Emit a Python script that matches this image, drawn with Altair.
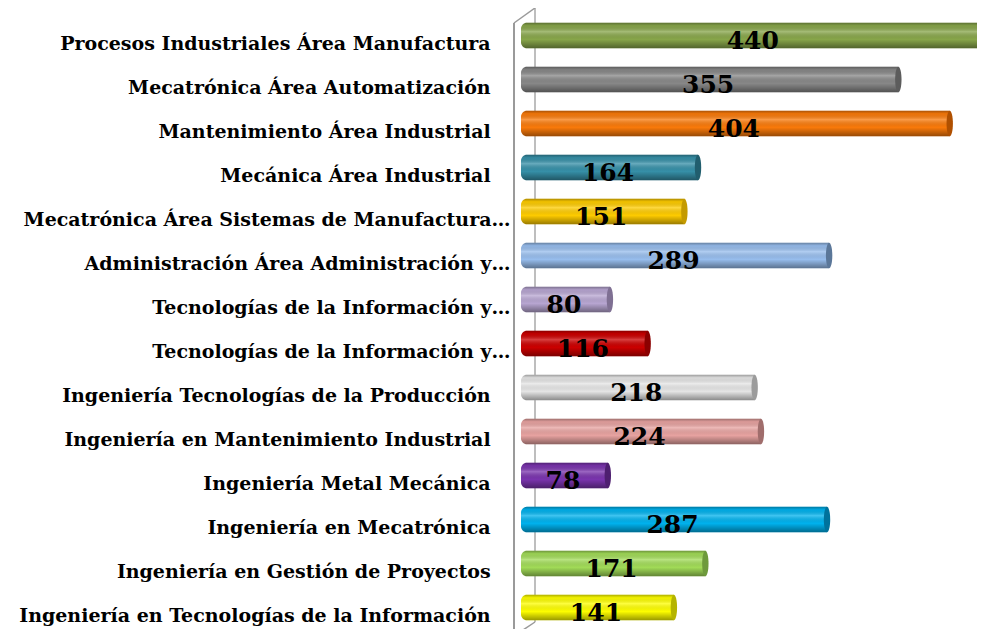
import json
import altair as alt
import pandas as pd

categories = [
    "Procesos Industriales Área Manufactura",
    "Mecatrónica Área Automatización",
    "Mantenimiento Área Industrial",
    "Mecánica Área Industrial",
    "Mecatrónica Área Sistemas de Manufactura…",
    "Administración Área Administración y…",
    "Tecnologías de la Información y…",
    "Tecnologías de la Información y…",
    "Ingeniería Tecnologías de la Producción",
    "Ingeniería en Mantenimiento Industrial",
    "Ingeniería Metal Mecánica",
    "Ingeniería en Mecatrónica",
    "Ingeniería  en Gestión de Proyectos",
    "Ingeniería en Tecnologías de la Información",
]
values = [440, 355, 404, 164, 151, 289, 80, 116, 218, 224, 78, 287, 171, 141]
bar_colors = ["#88A64A", "#888888", "#FA7A0A", "#3690A8", "#FFCC00", "#98BEEE",
              "#B8A6D2", "#CC0000", "#E6E6E6", "#E8A3A1", "#7A34AE", "#00B2EE",
              "#A2DC58", "#FFFF00"]
cap_colors = ["#5D7334", "#5C5C5C", "#B05000", "#215E6E", "#C49A00", "#5B7799",
              "#7F7093", "#8B0000", "#9C9C9C", "#A06D6C", "#4E1F70", "#00729C",
              "#6E9A3C", "#B5B400"]

idx = list(range(len(categories)))
df = pd.DataFrame({"idx": idx, "label": categories, "value": values})

label_array = json.dumps(categories, ensure_ascii=False)
label_expr = (
    f"({label_array})[toNumber(datum.value)] + "
    f"(indexof(({label_array})[toNumber(datum.value)], '…') >= 0 ? '' : '\u00a0\u00a0\u00a0\u200b')"
)

y_enc = alt.Y(
    "idx:N",
    sort=idx,
    scale=alt.Scale(range=[5.5, 621.5], paddingInner=0.42, paddingOuter=0.21),
    axis=alt.Axis(
        title=None, domain=False, ticks=False, labelExpr=label_expr,
        labelFont="DejaVu Serif", labelFontWeight="bold", labelFontSize=19,
        labelColor="black", labelPadding=16, labelOffset=8, labelLimit=0,
    ),
)
x_scale = alt.Scale(domain=[0, 430], nice=False, zero=True)

base = alt.Chart(df).transform_calculate(start="0", mid="datum.value / 2")

bars = base.mark_bar(xOffset=-5, cornerRadiusTopLeft=6, cornerRadiusBottomLeft=6).encode(
    y=y_enc,
    x=alt.X("start:Q", scale=x_scale, axis=None),
    x2="value:Q",
    color=alt.Color("idx:N", scale=alt.Scale(domain=idx, range=bar_colors), legend=None),
)

shade = base.mark_bar(
    xOffset=-5, cornerRadiusTopLeft=6, cornerRadiusBottomLeft=6,
    color=alt.Gradient(
        gradient="linear", x1=0, x2=0, y1=0, y2=1,
        stops=[
            alt.GradientStop(offset=0, color="rgba(0,0,0,0.32)"),
            alt.GradientStop(offset=0.12, color="rgba(0,0,0,0.05)"),
            alt.GradientStop(offset=0.35, color="rgba(255,255,255,0.25)"),
            alt.GradientStop(offset=0.65, color="rgba(0,0,0,0.0)"),
            alt.GradientStop(offset=1, color="rgba(0,0,0,0.40)"),
        ],
    ),
).encode(
    y=y_enc,
    x=alt.X("start:Q", scale=x_scale, axis=None),
    x2="value:Q",
)

caps = base.mark_point(
    shape="M0,-1A0.25,1,0,1,1,0,1A0.25,1,0,1,1,0,-1Z",
    filled=True, opacity=1, size=650,
).encode(
    y=y_enc,
    x=alt.X("value:Q", scale=x_scale, axis=None),
    fill=alt.Fill("idx:N", scale=alt.Scale(domain=idx, range=cap_colors), legend=None),
)

labels = base.mark_text(
    font="DejaVu Serif", fontWeight="bold", fontSize=25, color="black",
    baseline="middle", align="center", dy=5, dx=-4,
).encode(
    y=y_enc,
    x=alt.X("mid:Q", scale=x_scale, axis=None),
    text="value:Q",
)

wall_color = "#9A9A9A"
one = alt.Data(values=[{"k": 1}])
inner_wall = alt.Chart(one).mark_rule(color="#A8A8A8", strokeWidth=1.5).encode(
    x=alt.value(9), y=alt.value(0), x2=alt.value(9), y2=alt.value(614))
outer_wall = alt.Chart(one).mark_rule(color=wall_color, strokeWidth=2).encode(
    x=alt.value(-12), y=alt.value(15), x2=alt.value(-12), y2=alt.value(625))
top_diag = alt.Chart(one).mark_rule(color=wall_color, strokeWidth=1.5).encode(
    x=alt.value(-12), y=alt.value(15), x2=alt.value(9), y2=alt.value(0))
bottom_diag = alt.Chart(one).mark_rule(color=wall_color, strokeWidth=1.5).encode(
    x=alt.value(9), y=alt.value(614), x2=alt.value(-12), y2=alt.value(628))

chart = alt.layer(
    inner_wall, bars, shade, caps, labels, outer_wall, top_diag, bottom_diag
).resolve_scale(color="independent", fill="independent").properties(
    width=451, height=621,
    padding={"left": 518, "top": 0, "right": 0, "bottom": 0},
    autosize=alt.AutoSizeParams(type="none"),
).configure_view(stroke=None)

chart.save("out.html", embed_options={"renderer": "svg", "actions": False})
